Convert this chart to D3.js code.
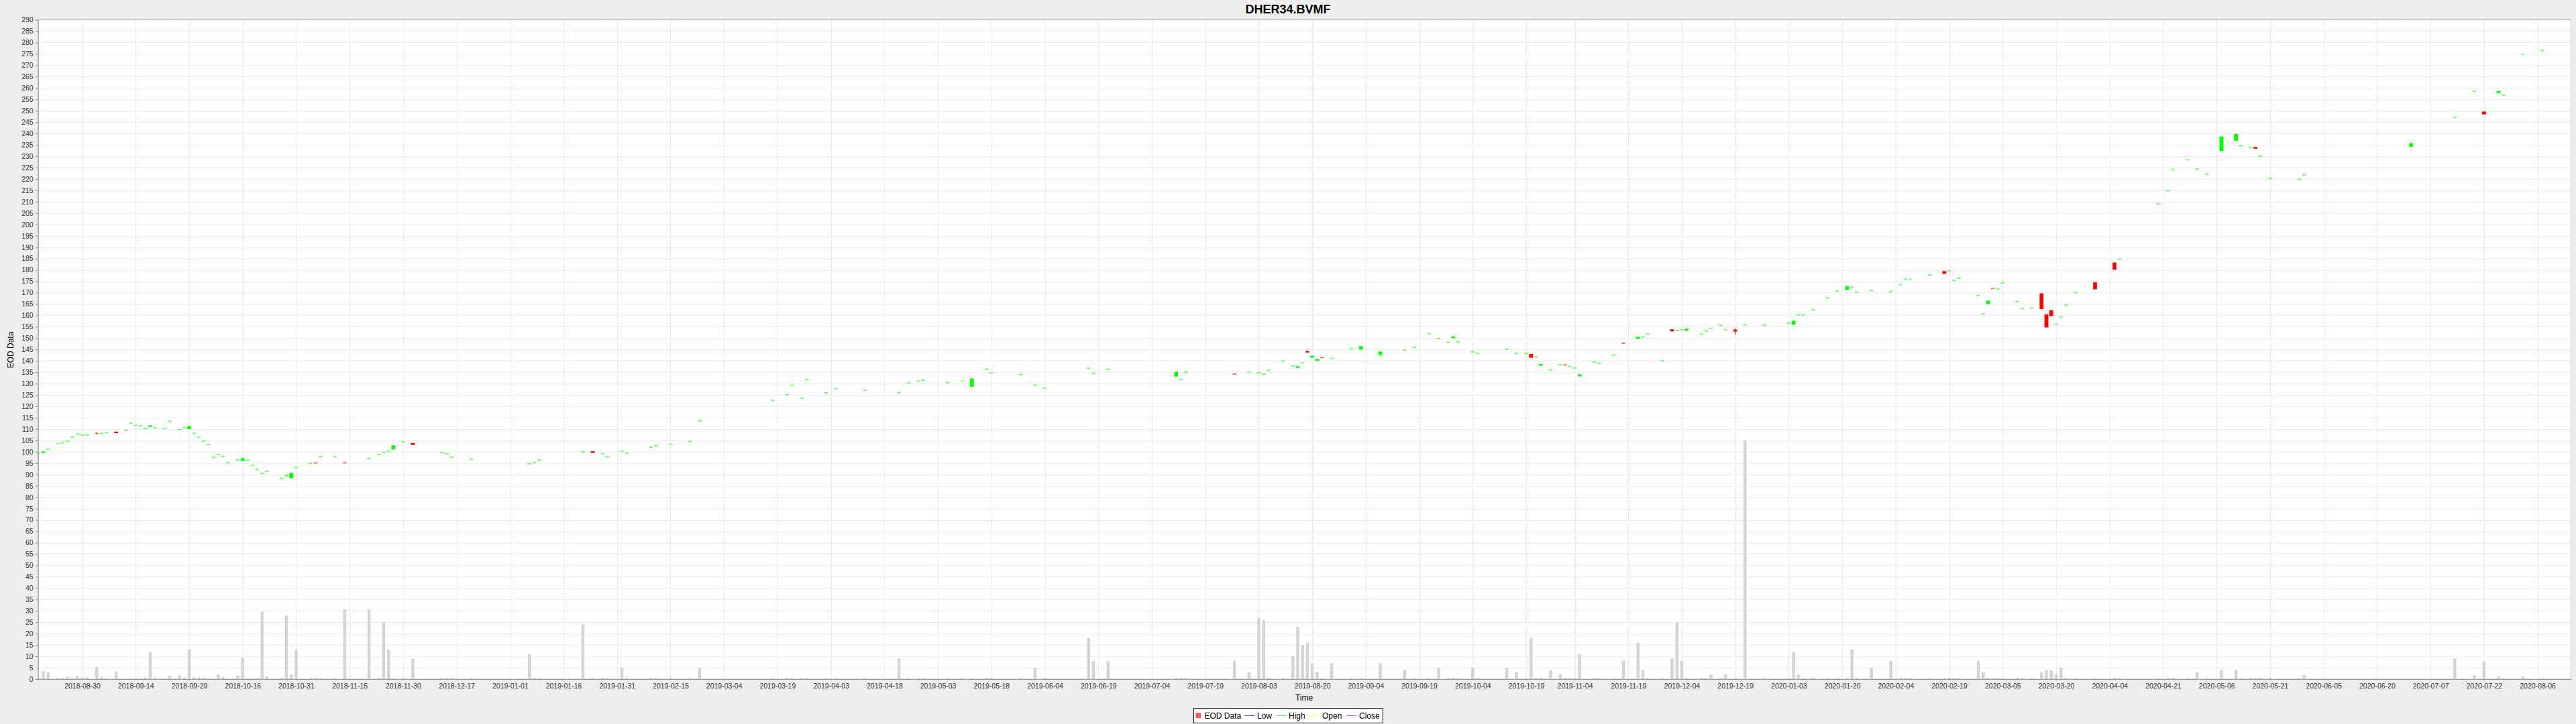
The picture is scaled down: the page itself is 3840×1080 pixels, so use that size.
<!DOCTYPE html>
<html><head><meta charset="utf-8">
<script src="https://cdn.jsdelivr.net/npm/d3@7"></script>
<style>
html,body{margin:0;padding:0;background:#eeeeee;}
svg{display:block;font-family:"Liberation Sans",Arial,sans-serif;}
</style></head><body>
<svg id="chart" width="3840" height="1080"></svg>
<script>
// ---------------- DATA ----------------
const title = "DHER34.BVMF";
const seriesName = "EOD Data";
const legendLines = ["Low","High","Open","Close"];
const legendLineColors = ["#5555ff","#55ff55","#ffff55","#ff55ff"];

const dates = [
"2018-08-17","2018-08-20","2018-08-21","2018-08-23","2018-08-24","2018-08-27","2018-08-28","2018-08-29","2018-08-30","2018-08-31",
"2018-09-04","2018-09-05","2018-09-06","2018-09-10","2018-09-12","2018-09-13","2018-09-14","2018-09-17","2018-09-18","2018-09-19",
"2018-09-20","2018-09-24","2018-09-25","2018-09-27","2018-09-28","2018-10-01","2018-10-02","2018-10-03","2018-10-04","2018-10-05",
"2018-10-08","2018-10-09","2018-10-10","2018-10-11","2018-10-15","2018-10-16","2018-10-17","2018-10-18","2018-10-19","2018-10-22",
"2018-10-23","2018-10-26","2018-10-29","2018-10-30","2018-10-31","2018-11-05","2018-11-06","2018-11-07","2018-11-12","2018-11-14",
"2018-11-21","2018-11-23","2018-11-26","2018-11-27","2018-11-28","2018-11-30","2018-12-04","2018-12-12","2018-12-13","2018-12-14",
"2018-12-20","2019-01-07","2019-01-08","2019-01-09","2019-01-22","2019-01-24","2019-01-28","2019-01-29","2019-02-01","2019-02-04",
"2019-02-11","2019-02-12","2019-02-15","2019-02-21","2019-02-25","2019-03-18","2019-03-21","2019-03-22","2019-03-26","2019-03-27",
"2019-04-02","2019-04-04","2019-04-12",
"2019-04-23","2019-04-25","2019-04-29","2019-04-30","2019-05-07","2019-05-10","2019-05-14","2019-05-17","2019-05-20","2019-05-28",
"2019-05-31","2019-06-04","2019-06-17","2019-06-18","2019-06-21","2019-07-11","2019-07-12","2019-07-15","2019-07-29","2019-08-01",
"2019-08-05","2019-08-06","2019-08-07","2019-08-12","2019-08-14","2019-08-15","2019-08-16","2019-08-19","2019-08-20",
"2019-08-21","2019-08-22","2019-08-26","2019-08-30","2019-09-03","2019-09-09","2019-09-16","2019-09-18","2019-09-23","2019-09-25",
"2019-09-27","2019-09-30","2019-10-01","2019-10-04","2019-10-07","2019-10-15","2019-10-17","2019-10-21","2019-10-22","2019-10-23",
"2019-10-24","2019-10-28","2019-10-30","2019-10-31","2019-11-01","2019-11-04","2019-11-05","2019-11-08","2019-11-11","2019-11-14",
"2019-11-18","2019-11-21","2019-11-22","2019-11-25","2019-11-28","2019-12-02","2019-12-03","2019-12-04","2019-12-05","2019-12-10",
"2019-12-11","2019-12-12","2019-12-16","2019-12-17","2019-12-19",
"2019-12-23","2019-12-27","2020-01-03","2020-01-06","2020-01-07","2020-01-08","2020-01-10","2020-01-15","2020-01-17","2020-01-21",
"2020-01-22","2020-01-23","2020-01-28","2020-02-03","2020-02-05","2020-02-06","2020-02-07","2020-02-13","2020-02-18","2020-02-19",
"2020-02-20","2020-02-21","2020-02-27","2020-02-28","2020-03-02","2020-03-03","2020-03-04","2020-03-05","2020-03-10","2020-03-11",
"2020-03-13","2020-03-17","2020-03-18","2020-03-19","2020-03-20","2020-03-23","2020-03-24","2020-03-26","2020-04-01","2020-04-07",
"2020-04-08",
"2020-04-20","2020-04-22","2020-04-23","2020-04-28","2020-04-30","2020-05-04","2020-05-07","2020-05-12","2020-05-13","2020-05-15",
"2020-05-18","2020-05-19","2020-05-21","2020-05-29","2020-06-01","2020-07-01","2020-07-14","2020-07-20","2020-07-22","2020-07-27",
"2020-07-28","2020-08-03","2020-08-07"
];

const opens = [
99.3,99.5,101.0,103.65,104.1,104.6,106.5,107.7,107.3,107.4,
108.3,108.0,108.4,108.8,109.35,112.6,111.6,111.4,110.2,111.0,
110.6,110.2,113.4,109.8,110.7,110.0,108.1,106.5,104.6,103.2,
97.55,98.8,98.0,95.2,96.4,96.0,96.1,94.0,92.3,90.5,
91.35,88.2,89.6,88.4,93.1,94.9,95.3,97.85,97.75,95.3,
96.96,98.8,99.7,100.2,101.1,104.3,103.8,99.6,99.1,97.55,
96.8,94.7,95.2,96.3,100.0,100.2,99.2,97.75,100.3,99.3,
102.0,102.6,103.4,104.5,113.5,122.6,125.1,129.2,123.6,131.7,
125.9,127.7,127.05,
125.97,130.3,131.1,131.5,130.4,131.0,128.6,136.3,134.7,133.9,
129.3,128.0,136.7,134.5,136.2,133.1,131.8,135.0,134.3,135.0,
134.7,134.1,135.8,140.0,137.7,136.9,139.1,144.3,141.4,
140.0,141.6,141.0,145.3,145.0,142.6,144.65,145.9,152.0,149.8,
148.1,150.0,148.4,144.0,143.3,145.1,143.2,143.2,143.0,141.7,
137.9,136.0,138.3,138.4,137.5,136.8,133.2,139.5,138.9,142.6,
147.9,149.7,150.5,151.8,140.0,153.8,153.3,153.6,153.3,151.7,
153.1,154.3,155.6,153.7,153.7,
155.8,155.7,156.5,156.0,160.2,160.2,162.45,167.8,170.8,171.2,
172.4,170.2,170.9,170.4,173.6,176.0,175.9,177.8,179.4,179.6,
175.4,176.3,168.7,160.6,165.0,172.0,171.6,174.2,166.0,162.95,
163.2,169.6,160.4,162.2,156.1,159.2,164.6,170.0,174.5,183.2,
184.8,
209.07,214.87,224.0,228.4,224.3,222.1,232.3,236.8,234.7,233.85,
234.0,230.0,220.3,219.8,221.7,234.1,247.0,258.6,249.6,257.8,
256.9,274.86,276.5
];

const closes = [
99.3,100.1,101.0,103.65,104.1,104.6,106.5,107.7,107.3,107.4,
107.9,108.0,108.4,108.2,109.35,112.6,111.6,111.4,110.2,111.6,
110.6,110.2,113.4,109.8,110.7,111.2,108.1,106.5,104.6,103.2,
97.55,98.8,98.0,95.2,96.4,97.1,96.1,94.0,92.3,90.5,
91.35,88.2,89.6,90.6,93.1,94.9,94.9,97.85,97.75,95.0,
96.96,98.8,99.7,100.2,102.8,104.3,103.0,99.6,99.1,97.55,
96.8,94.7,95.2,96.3,100.0,99.5,99.2,97.75,100.3,99.3,
102.0,102.6,103.4,104.5,113.5,122.6,125.1,129.2,123.6,131.7,
125.9,127.7,127.05,
125.97,130.3,131.1,131.5,130.4,131.0,132.2,136.3,134.7,133.9,
129.3,128.0,136.7,134.5,136.2,135.1,131.8,135.0,134.0,135.0,
134.7,134.1,135.8,140.0,137.7,137.6,139.1,143.7,142.2,
140.7,141.3,141.0,145.3,146.4,144.0,144.65,145.9,152.0,149.8,
148.1,150.7,148.4,144.0,143.3,145.1,143.2,143.2,141.4,141.7,
138.6,136.0,138.3,138.0,137.5,136.8,134.0,139.5,138.9,142.6,
147.6,150.5,150.5,151.8,140.0,153.0,153.3,153.6,154.1,151.7,
153.1,154.3,155.6,153.7,152.9,
155.8,155.7,156.5,157.6,160.2,160.2,162.45,167.8,170.8,172.8,
172.4,170.2,170.9,170.4,173.6,176.0,175.9,177.8,178.3,179.6,
175.4,176.3,168.7,160.6,166.4,171.6,171.6,174.2,166.0,162.95,
163.2,162.8,154.7,159.7,156.1,159.2,164.6,170.0,171.5,180.1,
184.8,
209.07,214.87,224.0,228.4,224.3,222.1,238.6,239.7,234.7,233.85,
233.3,230.0,220.3,219.8,221.7,235.6,247.0,258.6,248.4,258.6,
256.9,274.86,276.5
];

// volume bars (read in axis units from the picture)
const volumes = [
0.6,3.6,2.9,0.6,0.5,1.0,0.4,1.4,0.8,0.8,
5.3,0.9,0.4,3.4,0.3,0.3,0.5,0.3,0.7,11.9,
0.7,0.3,1.4,1.7,0.7,13.1,0.7,0.8,0.7,0.3,
0.3,2.0,1.0,0.3,1.5,9.4,0.3,0.3,0.5,29.6,
1.2,0.5,28,2,13,0.5,0.5,0.5,0.5,30.7,
30.7,0.5,25,13,0.5,0.5,9,0.5,0.5,0.5,
0.5,11,0.5,0.5,24,0.5,0.5,0.5,5,0.5,
0.5,0.5,0.5,0.5,5,0.5,0.5,0.5,0.5,0.5,
0.5,0.5,0.5,
9,0.5,0.5,0.5,0.5,0.5,0.5,0.5,0.5,0.5,
5,0.5,18,8,8,0.5,0.5,0.5,8,3,
27,26,0.5,0.5,10,23,15,16,7,
3,0.5,7,0.5,0.5,7,4,0.5,0.5,5,
0.5,0.5,0.5,5,0.5,5,3,0.5,18,0.5,
0.5,4,2,0.5,0.5,0.5,11,0.5,0.5,0.5,
8,16,4,0.5,0.5,9,25,8,0.5,0.5,
0.5,2,0.5,2,0.5,
105,0.5,0.5,12,2,0.5,0.5,0.5,0.5,0.5,
13,0.5,5,8,0.5,0.5,0.5,0.5,0.5,0.5,
0.5,0.5,8,3,0.5,0.5,0.5,0.5,0.5,0.5,
0.5,3,4,4,2,5,0.5,0.5,0.5,0.5,
0.5,
0.5,0.5,0.5,0.5,3,0.5,4,4,0.5,0.5,
0.5,0.5,0.5,0.5,1.8,0.3,9,1.7,7.7,1.1,
0.3,1.1,0.3
];

// visible wicks (high / low beyond the body)
const wickDates = ["2018-09-04","2018-10-29","2018-10-30","2019-09-09","2019-12-19"];
const wickHighs = [108.3, 89.6, 90.8, 144.0, 154.3];
const wickLows  = [107.6, 88.6, 88.4, 141.9, 151.5];

const yTicks = d3.range(0, 291, 5);
const xTickLabels = [
"2018-08-30","2018-09-14","2018-09-29","2018-10-16","2018-10-31","2018-11-15","2018-11-30","2018-12-17",
"2019-01-01","2019-01-16","2019-01-31","2019-02-15","2019-03-04","2019-03-19","2019-04-03","2019-04-18",
"2019-05-03","2019-05-18","2019-06-04","2019-06-19","2019-07-04","2019-07-19","2019-08-03","2019-08-20",
"2019-09-04","2019-09-19","2019-10-04","2019-10-19","2019-11-04","2019-11-19","2019-12-04","2019-12-19",
"2020-01-03","2020-01-20","2020-02-04","2020-02-19","2020-03-05","2020-03-20","2020-04-04","2020-04-21",
"2020-05-06","2020-05-21","2020-06-05","2020-06-20","2020-07-07","2020-07-22","2020-08-06"
];

// ---------------- CHART ----------------
const svg = d3.select("#chart");
const P = {left:56.7, right:3832.5, top:29.5, bottom:1013};

// trading-day index (weekends collapse onto the following Monday)
function bd(s){
  const t = Date.UTC(+s.slice(0,4), +s.slice(5,7)-1, +s.slice(8,10));
  const ref = Date.UTC(2018,7,27);
  const D = Math.round((t-ref)/864e5);
  const k = Math.floor(D/7);
  let d = D - 7*k; if (d > 4) d = 5;
  return 5*k + d - 3;
}

const x = d3.scaleLinear().domain([-9.08, 511.89]).range([P.left, P.right]);
const y = d3.scaleLinear().domain([0, 290]).range([P.bottom, P.top]);

svg.append("rect").attr("width",3840).attr("height",1080).attr("fill","#eeeeee");
svg.append("rect").attr("x",P.left).attr("y",P.top).attr("width",P.right-P.left).attr("height",P.bottom-P.top).attr("fill","#ffffff");

// gridlines
const grid = svg.append("g").attr("stroke","#dadada").attr("stroke-width",1).attr("stroke-dasharray","2,2");
grid.selectAll("line.h").data(yTicks.filter(v=>v>0)).join("line")
  .attr("x1",P.left).attr("x2",P.right).attr("y1",d=>Math.round(y(d))+0.5).attr("y2",d=>Math.round(y(d))+0.5);
grid.selectAll("line.v").data(xTickLabels).join("line")
  .attr("y1",P.top).attr("y2",P.bottom).attr("x1",d=>Math.round(x(bd(d)))+0.5).attr("x2",d=>Math.round(x(bd(d)))+0.5);

// data rows
const rows = dates.map((d,i)=>{
  const w = wickDates.indexOf(d);
  const o = opens[i], c = closes[i];
  return {date:d, i:bd(d), open:o, close:c, vol:volumes[i],
    high: w>=0 ? Math.max(wickHighs[w], o, c) : Math.max(o,c),
    low:  w>=0 ? Math.min(wickLows[w], o, c) : Math.min(o,c)};
});

// volume bars
const vw = 4.5;
svg.append("g").selectAll("rect").data(rows).join("rect")
  .attr("x",d=>x(d.i)-vw/2).attr("width",vw)
  .attr("y",d=>y(d.vol)).attr("height",d=>Math.max(0.8, y(0)-y(d.vol)))
  .attr("fill","#d4d4d4");

// candles
const cw = 5.5;
const cg = svg.append("g");
rows.forEach(d=>{
  const up = d.close >= d.open;
  const col = up ? "#00ff00" : "#ff0000";
  const yt = y(Math.max(d.open,d.close)), yb = y(Math.min(d.open,d.close));
  if (d.high > Math.max(d.open,d.close) || d.low < Math.min(d.open,d.close)) {
    cg.append("line").attr("x1",x(d.i)).attr("x2",x(d.i)).attr("y1",y(d.high)).attr("y2",y(d.low))
      .attr("stroke",col).attr("stroke-width",1);
  }
  const h = yb - yt;
  if (h < 1.5) {
    cg.append("rect").attr("x",x(d.i)-cw/2).attr("width",cw).attr("y",(yt+yb)/2-1).attr("height",2)
      .attr("fill",col).attr("fill-opacity",0.55);
  } else {
    cg.append("rect").attr("x",x(d.i)-cw/2).attr("width",cw).attr("y",yt).attr("height",h)
      .attr("fill",col).attr("stroke",col).attr("stroke-opacity",0.35).attr("stroke-width",0.8);
  }
});

// outline
svg.append("rect").attr("x",P.left).attr("y",P.top).attr("width",P.right-P.left).attr("height",P.bottom-P.top)
  .attr("fill","none").attr("stroke","#b8b8b8").attr("stroke-width",1);

// axes
const yAxis = d3.axisLeft(y).tickValues(yTicks).tickSize(4).tickPadding(3).tickFormat(d3.format("d"));
const gy = svg.append("g").attr("transform",`translate(${P.left},0)`).call(yAxis);
gy.select(".domain").attr("stroke","#9a9a9a");
gy.selectAll(".tick line").attr("stroke","#9a9a9a");
gy.selectAll("text").attr("font-size","10.5px").attr("fill","#333").attr("font-family","Liberation Sans, Arial, sans-serif");

const xAxis = d3.axisBottom(x).tickValues(xTickLabels.map(bd)).tickSize(2).tickPadding(4.5)
  .tickFormat((d,i)=>xTickLabels[i]);
const gx = svg.append("g").attr("transform",`translate(0,${P.bottom})`).call(xAxis);
gx.select(".domain").attr("stroke","#9a9a9a");
gx.selectAll(".tick line").attr("stroke","#9a9a9a");
gx.selectAll("text").attr("font-size","10.5px").attr("fill","#333").attr("font-family","Liberation Sans, Arial, sans-serif");

// titles
svg.append("text").attr("x",1920).attr("y",20).attr("text-anchor","middle")
  .attr("font-size","18px").attr("font-weight","bold").attr("fill","#000").text(title);
svg.append("text").attr("x",1944).attr("y",1045).attr("text-anchor","middle")
  .attr("font-size","12px").attr("fill","#000").text("Time");
svg.append("text").attr("transform","translate(19.5,522) rotate(-90)").attr("text-anchor","middle")
  .attr("font-size","12px").attr("fill","#000").text(seriesName);

// legend
const lg = svg.append("g");
lg.append("rect").attr("x",1779.5).attr("y",1056.5).attr("width",282).attr("height",22)
  .attr("fill","#ffffff").attr("stroke","#000").attr("stroke-width",1);
lg.append("rect").attr("x",1782.5).attr("y",1063.5).attr("width",7.5).attr("height",7.5).attr("fill","#ff5555");
lg.append("text").attr("x",1795.5).attr("y",1072).attr("font-size","12px").text(seriesName);
const lx = [1855.3,1902.7,1949.5,2007];
const tx = [1874,1921,1971,2026];
legendLines.forEach((n,i)=>{
  lg.append("line").attr("x1",lx[i]).attr("x2",lx[i]+15).attr("y1",1067.5).attr("y2",1067.5)
    .attr("stroke",legendLineColors[i]).attr("stroke-width",1);
  lg.append("text").attr("x",tx[i]).attr("y",1072).attr("font-size","12px").text(n);
});
</script>
</body></html>
